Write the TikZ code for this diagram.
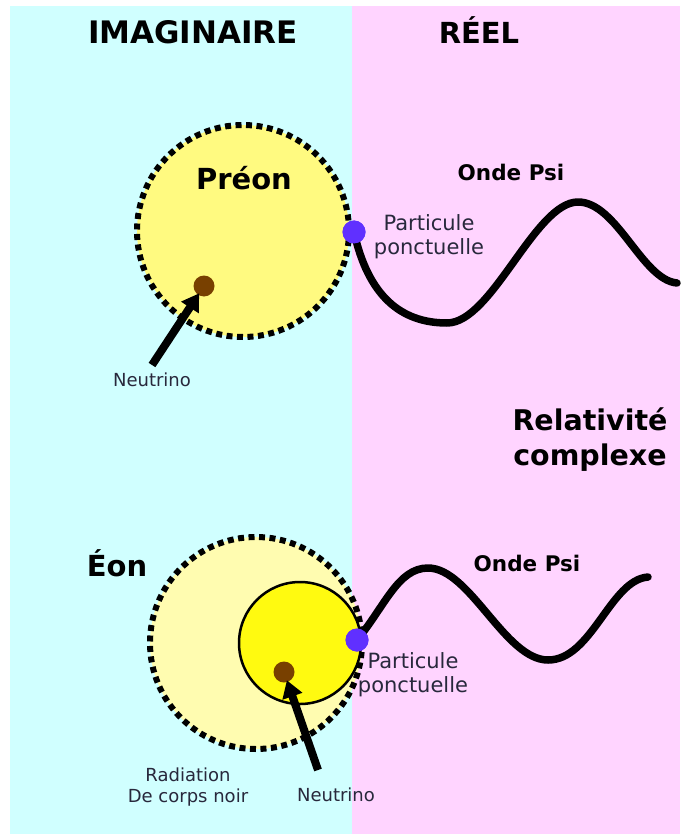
\documentclass[tikz,border=0pt]{standalone}
\usepackage{fontspec}
\setmainfont{DejaVu Sans}
\usetikzlibrary{arrows.meta}
\definecolor{cyanbg}{RGB}{208,255,255}
\definecolor{pinkbg}{RGB}{255,212,255}
\definecolor{preonfill}{RGB}{255,250,128}
\definecolor{eonouter}{RGB}{255,252,176}
\definecolor{eoninner}{RGB}{255,250,16}
\definecolor{pointblue}{RGB}{96,48,255}
\definecolor{neutrinobrown}{RGB}{120,64,0}
\definecolor{labelgray}{RGB}{40,40,60}
\tikzset{
  bigtitle/.style={font=\fontsize{29}{32}\selectfont\bfseries, text=black, inner sep=0pt},
  wavetitle/.style={font=\fontsize{21.5}{24}\selectfont\bfseries, text=black, inner sep=0pt},
  smalllabel/.style={font=\fontsize{18}{21}\selectfont, text=labelgray, inner sep=0pt, align=center},
  pointlabel/.style={font=\fontsize{21}{24}\selectfont, text=labelgray, inner sep=0pt, align=center},
  dottedcircle/.style={circle, draw=black, line width=6pt, dash pattern=on 6pt off 4.5pt, inner sep=0pt},
  pointdot/.style={circle, fill=pointblue, minimum size=23pt, inner sep=0pt},
  neutrinodot/.style={circle, fill=neutrinobrown, minimum size=21pt, inner sep=0pt},
  wave/.style={line width=7.5pt, line cap=round, line join=round, draw=black},
  pointer/.style={line width=8pt, draw=black, -{Triangle[length=17pt,width=20pt]}, shorten >=-2pt},
}
\begin{document}
\begin{tikzpicture}[x=1pt,y=-1pt]
\useasboundingbox (0,0) rectangle (680,834);
\fill[white] (0,0) rectangle (680,834);
\fill[cyanbg] (10,6) rectangle (352,834);
\fill[pinkbg] (352,6) rectangle (680,834);

% headers
\node[bigtitle, font=\fontsize{31}{34}\selectfont\bfseries] (imag) at (193,32) {IMAGINAIRE};
\node[bigtitle] (reel) at (479,30) {RÉEL};

% ---------- Preon ----------
\node[dottedcircle, fill=preonfill, minimum size=212pt] (preon) at (243,231) {};
\node[bigtitle] (preonlbl) at (244,178) {Préon};
\node[neutrinodot] (nu1) at (204,286) {};
\node[pointdot] (pt1) at (354,232) {};
\coordinate (nu1tail) at (152,365);
\draw[pointer] (nu1tail) -- (nu1);
\node[smalllabel] (nu1lbl) at (152,380) {Neutrino};
\node[pointlabel] (pt1lbl) at (429,237) {Particule\\ponctuelle};
\node[wavetitle] (onde1) at (511,172) {Onde Psi};
\coordinate (w1a) at (447,323);
\coordinate (w1b) at (578,202);
\coordinate (w1c) at (677,283);
\draw[wave] (pt1.center) .. controls (368,295) and (400,323) .. (w1a)
  .. controls (492,323) and (535,202) .. (w1b)
  .. controls (617,202) and (642,280) .. (w1c);
\node[pointdot] at (pt1) {};

% ---------- middle ----------
\node[bigtitle, align=center, font=\fontsize{28.5}{35}\selectfont\bfseries] (rel) at (590,440) {Relativité\\complexe};

% ---------- Eon ----------
\node[bigtitle] (eonlbl) at (117,563) {Éon};
\node[dottedcircle, fill=eonouter, minimum size=212pt] (eon) at (256,643) {};
\node[circle, draw=black, line width=2.5pt, fill=eoninner, minimum size=122pt, inner sep=0pt] (core) at (300,643) {};
\node[neutrinodot] (nu2) at (284,672) {};
\node[pointdot] (pt2) at (357,640) {};
\coordinate (nu2tail) at (318,770);
\draw[pointer] (nu2tail) -- (nu2);
\node[smalllabel] (rad) at (188,787) {Radiation\\De corps noir};
\node[smalllabel] (nu2lbl) at (336,795) {Neutrino};
\node[pointlabel] (pt2lbl) at (413,675) {Particule\\ponctuelle};
\node[wavetitle] (onde2) at (527,563) {Onde Psi};
\coordinate (w2a) at (428,568);
\coordinate (w2b) at (548,660);
\coordinate (w2c) at (648,577);
\draw[wave] (pt2.center) .. controls (385,606) and (398,568) .. (w2a)
  .. controls (470,568) and (505,660) .. (w2b)
  .. controls (592,660) and (610,580) .. (w2c);
\node[pointdot] at (pt2) {};
\end{tikzpicture}
\end{document}
